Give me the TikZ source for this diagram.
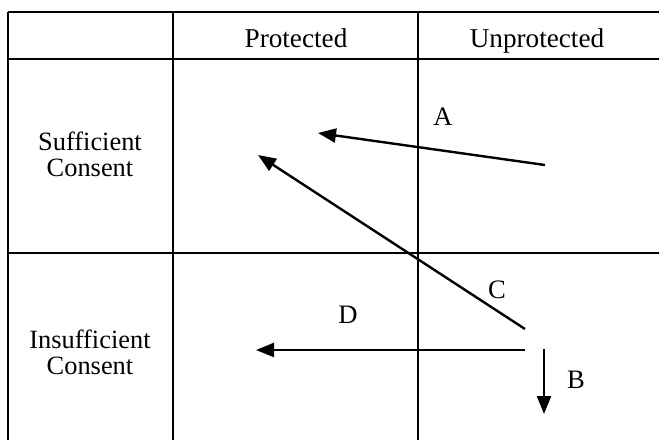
\documentclass[tikz,border=0pt]{standalone}
\usepackage{fontspec}
\setmainfont{Liberation Serif}
\usetikzlibrary{arrows.meta}
\begin{document}
\begin{tikzpicture}[x=0.5pt,y=-0.5pt,
  grid/.style={line width=1pt, black},
  arr/.style={line width=1.2pt, black, -{Triangle[length=9pt,width=7pt]}},
  lbl/.style={font=\fontsize{13.3}{13}\selectfont, inner sep=0pt, align=center},
  hdr/.style={font=\fontsize{13.6}{13}\selectfont, inner sep=0pt, anchor=base},
  side/.style={font=\fontsize{13.2}{13}\selectfont, inner sep=0pt, align=center}]
\useasboundingbox (0,0) rectangle (659,440);
% grid
\draw[grid] (8,12) -- (659,12);
\draw[grid] (8,59) -- (659,59);
\draw[grid] (8,253) -- (659,253);
\draw[grid] (8,12) -- (8,440);
\draw[grid] (173,12) -- (173,440);
\draw[grid] (418,12) -- (418,440);
% headers
\node[hdr] (prot) at (296,47) {Protected};
\node[hdr] (unprot) at (537,47) {Unprotected};
\node[side] (suff) at (90,154) {Sufficient\\Consent};
\node[side] (insuff) at (90,352) {Insufficient\\Consent};
% arrow endpoints
\coordinate (a1) at (545,165);
\coordinate (a2) at (318,133);
\coordinate (c1) at (525,329);
\coordinate (c2) at (258,155);
\coordinate (d1) at (525,350);
\coordinate (d2) at (256,350);
\coordinate (b1) at (544,349);
\coordinate (b2) at (544,414);
\draw[arr] (a1) -- (a2);
\draw[arr] (c1) -- (c2);
\draw[arr] (d1) -- (d2);
\draw[arr] (b1) -- (b2);
% labels
\node[lbl] (la) at (443,117) {A};
\node[lbl] (lc) at (497,290) {C};
\node[lbl] (ld) at (348,315) {D};
\node[lbl] (lb) at (576,380) {B};
\end{tikzpicture}
\end{document}
